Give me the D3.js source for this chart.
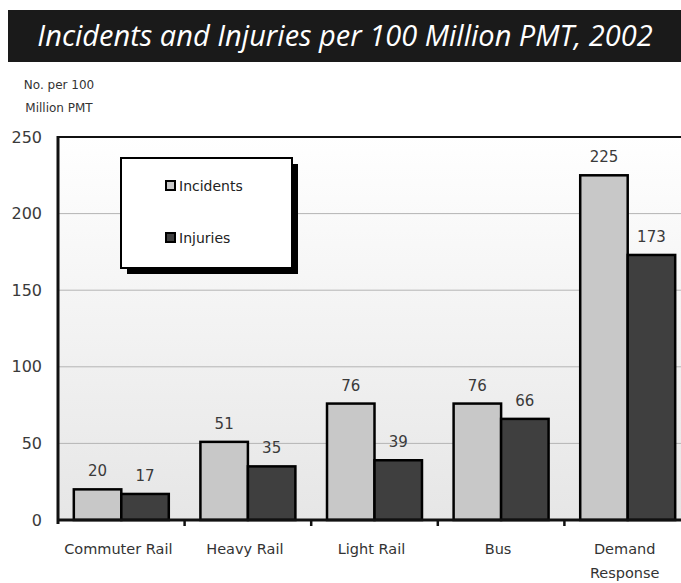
<!DOCTYPE html>
<html>
<head>
<meta charset="utf-8">
<script src="https://cdn.jsdelivr.net/npm/d3@7"></script>
<style>
  body { margin: 0; background: #ffffff; }
  svg { display: block; font-family: 'DejaVu Sans', sans-serif; }
</style>
</head>
<body>
<div id="chart"></div>
<script>
// data
var categories = ['Commuter Rail', 'Heavy Rail', 'Light Rail', 'Bus', 'Demand Response'];
var seriesNames = ['Incidents', 'Injuries'];
var incidents = [20, 51, 76, 76, 225];
var injuries = [17, 35, 39, 66, 173];
var yTicks = [0, 50, 100, 150, 200, 250];

var seriesColors = ['#c8c8c8', '#3f3f3f'];

var width = 681, height = 583;
var margin = { left: 58, top: 137, right: -10, bottom: 63 };

var svg = d3.select('#chart').append('svg')
    .attr('width', width)
    .attr('height', height);

// title bar
svg.append('rect')
    .attr('x', 8).attr('y', 10)
    .attr('width', width - 8).attr('height', 52)
    .attr('fill', '#1a1a1a');
svg.append('text')
    .attr('x', 345).attr('y', 46)
    .attr('text-anchor', 'middle')
    .attr('fill', '#ffffff')
    .style('font-family', "'Open Sans', sans-serif")
    .style('font-style', 'italic')
    .style('font-size', '29px')
    .text('Incidents and Injuries per 100 Million PMT, 2002');

var x = d3.scaleBand()
    .domain(categories)
    .range([margin.left, width - margin.right])
    .paddingInner(0)
    .paddingOuter(0);

var xInner = d3.scaleBand()
    .domain(seriesNames)
    .range([0, x.bandwidth()])
    .paddingOuter(0.333)
    .paddingInner(0);

var y = d3.scaleLinear()
    .domain([0, 250])
    .range([height - margin.bottom, margin.top]);

// background gradient
var defs = svg.append('defs');
var grad = defs.append('linearGradient')
    .attr('id', 'bg').attr('x1', 0).attr('y1', 0).attr('x2', 0).attr('y2', 1);
grad.append('stop').attr('offset', '0%').attr('stop-color', '#ffffff');
grad.append('stop').attr('offset', '100%').attr('stop-color', '#e6e6e6');

svg.append('rect')
    .attr('x', margin.left).attr('y', y(250))
    .attr('width', width - margin.left + 20).attr('height', y(0) - y(250))
    .attr('fill', 'url(#bg)');

// gridlines
svg.append('g')
    .selectAll('line')
    .data(yTicks.filter(function (d) { return d > 0 && d < 250; }))
    .enter().append('line')
    .attr('x1', margin.left).attr('x2', width)
    .attr('y1', function (d) { return y(d); })
    .attr('y2', function (d) { return y(d); })
    .attr('stroke', '#b4b4b4')
    .attr('stroke-width', 1);

// y axis labels
var yAxis = d3.axisLeft(y).tickValues(yTicks).tickSize(0).tickPadding(16);
var yG = svg.append('g')
    .attr('transform', 'translate(' + margin.left + ',0)')
    .call(yAxis);
yG.select('.domain').remove();
yG.selectAll('text')
    .attr('fill', '#3a3a3a')
    .style('font-family', "'DejaVu Sans', sans-serif")
    .style('font-size', '16px');

// y axis title
svg.append('text')
    .attr('x', 59).attr('y', 89)
    .attr('text-anchor', 'middle')
    .attr('fill', '#333333')
    .style('font-size', '12px')
    .text('No. per 100');
svg.append('text')
    .attr('x', 59).attr('y', 112)
    .attr('text-anchor', 'middle')
    .attr('fill', '#333333')
    .style('font-size', '12px')
    .text('Million PMT');

// bars
var rows = categories.map(function (c, i) {
    return { cat: c, values: [incidents[i], injuries[i]] };
});

var groups = svg.append('g')
    .selectAll('g')
    .data(rows)
    .enter().append('g')
    .attr('transform', function (d) { return 'translate(' + x(d.cat) + ',0)'; });

groups.selectAll('rect')
    .data(function (d) {
        return d.values.map(function (v, j) { return { name: seriesNames[j], value: v, idx: j }; });
    })
    .enter().append('rect')
    .attr('x', function (d) { return xInner(d.name); })
    .attr('y', function (d) { return y(d.value); })
    .attr('width', xInner.bandwidth())
    .attr('height', function (d) { return y(0) - y(d.value); })
    .attr('fill', function (d) { return seriesColors[d.idx]; })
    .attr('stroke', '#000000')
    .attr('stroke-width', 2.5);

groups.selectAll('text.val')
    .data(function (d) {
        return d.values.map(function (v, j) { return { name: seriesNames[j], value: v }; });
    })
    .enter().append('text')
    .attr('class', 'val')
    .attr('x', function (d) { return xInner(d.name) + xInner.bandwidth() / 2; })
    .attr('y', function (d) { return y(d.value) - 13; })
    .attr('text-anchor', 'middle')
    .attr('fill', '#3a3a3a')
    .style('font-size', '15px')
    .text(function (d) { return d.value; });

// frame: top border, left axis, bottom axis
svg.append('line')
    .attr('x1', margin.left).attr('x2', width)
    .attr('y1', y(250)).attr('y2', y(250))
    .attr('stroke', '#111111').attr('stroke-width', 2);
svg.append('line')
    .attr('x1', margin.left).attr('x2', margin.left)
    .attr('y1', y(250) - 1).attr('y2', y(0) + 4)
    .attr('stroke', '#111111').attr('stroke-width', 3);
svg.append('line')
    .attr('x1', margin.left - 1).attr('x2', width)
    .attr('y1', y(0)).attr('y2', y(0))
    .attr('stroke', '#111111').attr('stroke-width', 3);

// category boundary ticks
svg.append('g')
    .selectAll('line')
    .data(categories.slice(1))
    .enter().append('line')
    .attr('x1', function (d) { return x(d); })
    .attr('x2', function (d) { return x(d); })
    .attr('y1', y(0)).attr('y2', y(0) + 6)
    .attr('stroke', '#111111').attr('stroke-width', 2.5);

// category labels
var xLabels = svg.append('g')
    .selectAll('text')
    .data(categories)
    .enter().append('text')
    .attr('x', function (d) { return x(d) + x.bandwidth() / 2 - 3; })
    .attr('y', 554)
    .attr('text-anchor', 'middle')
    .attr('fill', '#333333')
    .style('font-size', '14.5px');
xLabels.each(function (d) {
    var words = d === 'Demand Response' ? ['Demand', 'Response'] : [d];
    var t = d3.select(this);
    words.forEach(function (w, i) {
        t.append('tspan')
            .attr('x', t.attr('x'))
            .attr('dy', i === 0 ? 0 : 24)
            .text(w);
    });
});

// legend
var lg = svg.append('g').attr('transform', 'translate(121,158)');
lg.append('rect')
    .attr('x', 6).attr('y', 6).attr('width', 171).attr('height', 110)
    .attr('fill', '#000000');
lg.append('rect')
    .attr('x', 0).attr('y', 0).attr('width', 171).attr('height', 110)
    .attr('fill', '#ffffff').attr('stroke', '#000000').attr('stroke-width', 2);

var items = lg.selectAll('g.item')
    .data(seriesNames)
    .enter().append('g')
    .attr('class', 'item')
    .attr('transform', function (d, i) { return 'translate(45,' + (23 + i * 52) + ')'; });
items.append('rect')
    .attr('width', 9).attr('height', 9)
    .attr('fill', function (d, i) { return seriesColors[i]; })
    .attr('stroke', '#000000').attr('stroke-width', 2);
items.append('text')
    .attr('x', 13).attr('y', 9.5)
    .attr('fill', '#222222')
    .style('font-size', '14px')
    .text(function (d) { return d; });
</script>
</body>
</html>
